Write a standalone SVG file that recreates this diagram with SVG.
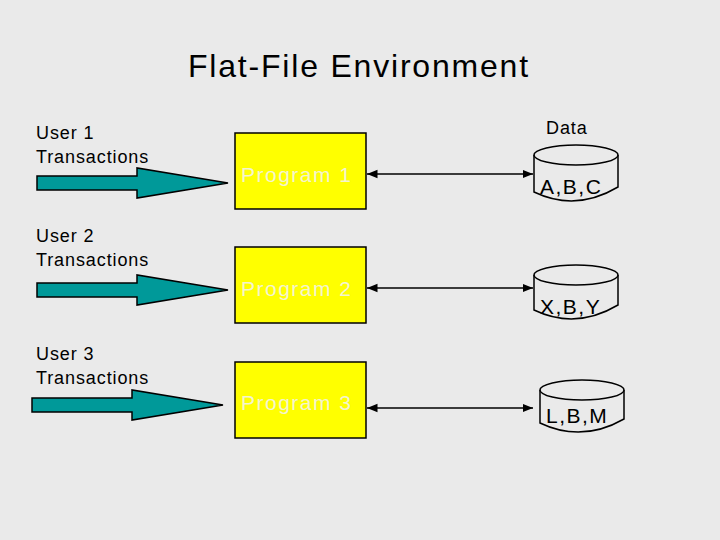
<svg xmlns="http://www.w3.org/2000/svg" width="720" height="540" viewBox="0 0 720 540">
<defs>
<marker id="ah" viewBox="0 0 10 10" refX="10" refY="5" markerWidth="7" markerHeight="7" orient="auto-start-reverse"><path d="M0,1 L10,5 L0,9 z" fill="#000"/></marker>
<path id="fat" d="M0,-7 L100,-7 L100,-15 L191,0 L100,15 L100,7 L0,7 z"/>
</defs>
<style>
text{font-family:"Liberation Sans",Arial,sans-serif;fill:#000}
.big{font-size:32px;letter-spacing:1.8px}
.lab{font-size:18px;letter-spacing:0.9px}
.prog{fill:#ffff00;stroke:#000;stroke-width:1.5}
.pt{font-size:21px;fill:#f4f4d0;letter-spacing:1.5px}
.cyl{fill:#eaeaea;stroke:#000;stroke-width:1.5}
.dt{font-size:21px;letter-spacing:1.5px}
.ta{fill:#009999;stroke:#000;stroke-width:1.5}
</style>
<rect width="720" height="540" fill="#eaeaea"/>
<text class="big" x="188" y="77">Flat-File Environment</text>
<text class="lab" x="546" y="134">Data</text>
<g id="user1"><text class="lab" x="36" y="139">User 1</text><text class="lab" x="36" y="163">Transactions</text><use href="#fat" class="ta" transform="translate(37,183)"/></g>
<g id="user2"><text class="lab" x="36" y="242">User 2</text><text class="lab" x="36" y="266">Transactions</text><use href="#fat" class="ta" transform="translate(37,290)"/></g>
<g id="user3"><text class="lab" x="36" y="360">User 3</text><text class="lab" x="36" y="384">Transactions</text><use href="#fat" class="ta" transform="translate(32,405)"/></g>
<g id="prog1"><rect class="prog" x="235" y="133" width="131" height="76"/><text class="pt" x="241" y="182">Program 1</text></g>
<g id="prog2"><rect class="prog" x="235" y="247" width="131" height="76"/><text class="pt" x="241" y="296">Program 2</text></g>
<g id="prog3"><rect class="prog" x="235" y="362" width="131" height="76"/><text class="pt" x="241" y="410">Program 3</text></g>
<g id="data1"><path class="cyl" d="M534,155 L534,192 Q576,212 618,187 L618,155"/><ellipse class="cyl" cx="576" cy="155" rx="42" ry="10"/><text class="dt" x="540" y="194">A,B,C</text></g>
<g id="data2"><path class="cyl" d="M534,275 L534,310 Q576,330 618,305 L618,275"/><ellipse class="cyl" cx="576" cy="275" rx="42" ry="10"/><text class="dt" x="540" y="314">X,B,Y</text></g>
<g id="data3"><path class="cyl" d="M540,390 L540,423 Q582,443 624,419 L624,390"/><ellipse class="cyl" cx="582" cy="390" rx="42" ry="10"/><text class="dt" x="546" y="423">L,B,M</text></g>
<g id="connectors" stroke="#000" stroke-width="1.5" fill="none">
<line x1="367" y1="174" x2="533" y2="174" marker-start="url(#ah)" marker-end="url(#ah)"/>
<line x1="367" y1="288" x2="533" y2="288" marker-start="url(#ah)" marker-end="url(#ah)"/>
<line x1="367" y1="408" x2="533" y2="408" marker-start="url(#ah)" marker-end="url(#ah)"/>
</g>
</svg>
